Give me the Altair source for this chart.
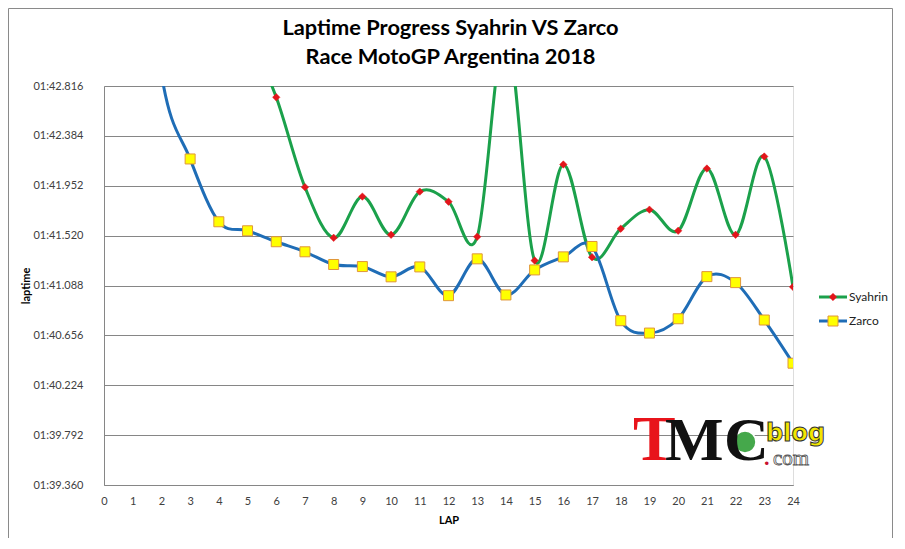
import altair as alt
import pandas as pd

# ---- data (lap times in seconds) ----
laps = list(range(1, 25))
syahrin = [106.90, 104.60, 104.20, 103.90, 103.30, 102.718, 101.940, 101.501,
           101.858, 101.527, 101.901, 101.814, 101.510, 103.300, 101.304, 102.136,
           101.333, 101.580, 101.745, 101.562, 102.101, 101.527, 102.205, 101.076]
zarco = [105.20, 102.920, 102.184, 101.640, 101.562, 101.467, 101.380, 101.270,
         101.252, 101.163, 101.249, 101.000, 101.319, 101.006, 101.223, 101.336,
         101.426, 100.783, 100.676, 100.800, 101.165, 101.113, 100.789, 100.415]
series_names = ["Syahrin", "Zarco"]
line_colors = ["#1BA14B", "#1F6DB6"]
y_ticks = [99.360, 99.792, 100.224, 100.656, 101.088, 101.520, 101.952, 102.384, 102.816]
x_ticks = list(range(0, 25))
title_lines = ["Laptime Progress Syahrin VS Zarco", "Race MotoGP Argentina 2018"]

rows = []
for name, vals in zip(series_names, [syahrin, zarco]):
    for lap, v in zip(laps, vals):
        rows.append({"series": name, "lap": lap, "time": v})
df = pd.DataFrame(rows)

FONT = "Lato"
GRID = "#868686"
LABEL = "#404040"
W, H = 689, 399

x_enc = alt.X(
    "lap:Q",
    scale=alt.Scale(domain=[0, 24], nice=False, zero=False),
    axis=alt.Axis(values=x_ticks, grid=False, ticks=False, domainColor=GRID,
                  labelFont=FONT, labelFontSize=11, labelColor=LABEL, labelPadding=10,
                  labelFlush=False, labelOverlap=False, format="d",
                  title="LAP", titleFont=FONT, titleFontSize=11, titleFontWeight="bold",
                  titleColor="#000", titlePadding=8),
)
y_enc = alt.Y(
    "time:Q",
    scale=alt.Scale(domain=[y_ticks[0], y_ticks[-1]], nice=False, zero=False),
    axis=alt.Axis(values=y_ticks, grid=True, gridColor=GRID, gridWidth=1, ticks=False,
                  domainColor=GRID, labelFont=FONT, labelFontSize=11, labelColor=LABEL,
                  labelPadding=21,
                  labelExpr="'0' + floor(datum.value / 60) + ':' + format(datum.value - 60 * floor(datum.value / 60), '06.3f')",
                  title="laptime", titleFont=FONT, titleFontSize=11, titleFontWeight="bold",
                  titleColor="#000", titlePadding=1),
)

lines = alt.Chart(df).mark_line(interpolate="cardinal", strokeWidth=3, clip=True).encode(
    x=x_enc, y=y_enc,
    color=alt.Color("series:N", scale=alt.Scale(domain=series_names, range=line_colors), legend=None),
)

diamond_style = dict(shape="diamond", filled=True, fill="#E3151B", stroke="#E3151B",
                     strokeWidth=0.5, size=55, opacity=1)
square_style = dict(shape="square", filled=True, fill="#FFFF00", stroke="#E0963A",
                    strokeWidth=1, size=100, opacity=1)
styles = [diamond_style, square_style]

syah_pts = alt.Chart(df).transform_filter(alt.datum.series == "Syahrin").mark_point(
    clip=True, **diamond_style).encode(x=x_enc, y=y_enc)
zarco_pts = alt.Chart(df).transform_filter(alt.datum.series == "Zarco").mark_point(
    clip=True, **square_style).encode(x=x_enc, y=y_enc)

layers = [lines, syah_pts, zarco_pts]

# ---- title (two centred lines) ----
for j, txt in enumerate(title_lines):
    layers.append(alt.Chart(pd.DataFrame({"t": [txt]})).mark_text(
        align="center", baseline="middle", font=FONT, fontSize=21.8, fontWeight="bold",
        color="#000").encode(x=alt.value(W / 2 + 2), y=alt.value(-58 + 29 * j), text="t:N"))

# ---- legend (line + marker + name) ----
for i, name in enumerate(series_names):
    ldf = pd.DataFrame({"series": [name]})
    ly = 211 + 24 * i
    layers.append(alt.Chart(ldf).mark_rule(color=line_colors[i], strokeWidth=3).encode(
        x=alt.value(715), x2=alt.value(743), y=alt.value(ly)))
    layers.append(alt.Chart(ldf).mark_point(**styles[i]).encode(
        x=alt.value(729), y=alt.value(ly)))
    layers.append(alt.Chart(ldf).mark_text(align="left", baseline="middle", font=FONT,
                                           fontSize=12, color="#222").encode(
        x=alt.value(745), y=alt.value(ly), text="series:N"))

# ---- TMC blog logo (text) ----
one = pd.DataFrame({"k": [0]})
def logo_text(txt, xp, yp, **kw):
    return alt.Chart(one).mark_text(align="left", baseline="alphabetic", **kw).encode(
        x=alt.value(xp), y=alt.value(yp), text=alt.value(txt))

layers.append(logo_text("T", 529, 374, font="Liberation Serif", fontSize=64,
                        fontWeight="bold", color="#E8141B"))
layers.append(logo_text("M", 561, 374, font="Liberation Serif", fontSize=62,
                        fontWeight="bold", color="#111"))
layers.append(alt.Chart(one).mark_point(shape="circle", filled=True, fill="#45A84B",
                                        stroke="#FFFFFF", strokeWidth=1.5, size=480,
                                        opacity=1).encode(
    x=alt.value(641), y=alt.value(356)))
layers.append(logo_text("C", 620, 374, font="Liberation Serif", fontSize=62,
                        fontWeight="bold", color="#111"))
layers.append(logo_text("blog", 662, 355, font="DejaVu Sans", fontSize=24,
                        fontWeight="bold", color="#F2E600", stroke="#333333",
                        strokeWidth=1))
layers.append(logo_text(".", 660, 379, font="Liberation Serif", fontSize=22,
                        fontWeight="bold", color="#C8102E"))
layers.append(logo_text("com", 669, 379, font="Liberation Serif", fontSize=21,
                        color="#FFFFFF", stroke="#555555", strokeWidth=0.8))

# ---- outer frame ----
layers.append(alt.Chart(one).mark_rect(fillOpacity=0, stroke="#8A8A8A", strokeWidth=1).encode(
    x=alt.value(-95.5), x2=alt.value(788.5), y=alt.value(-77.5), y2=alt.value(452.5)))

chart = alt.layer(*layers).properties(
    width=W, height=H,
    autosize=alt.AutoSizeParams(type="none"),
    padding={"left": 96, "top": 78, "right": 100, "bottom": 53},
).configure_view(stroke=None).configure(background="white")

chart.save("out.html", embed_options={"renderer": "svg", "actions": False})
